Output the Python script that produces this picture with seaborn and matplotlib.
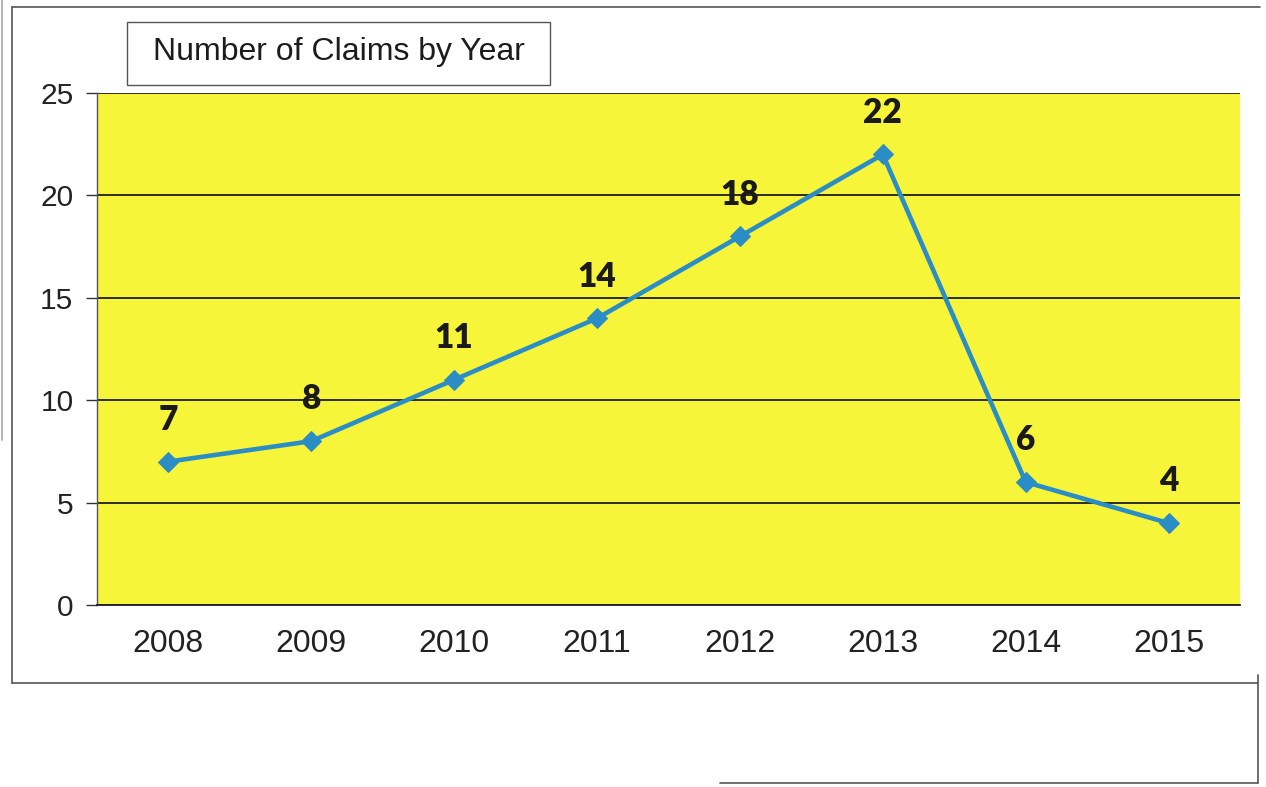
import matplotlib
matplotlib.use("Agg")
import matplotlib.pyplot as plt
from matplotlib.lines import Line2D
from matplotlib.patches import Rectangle
from matplotlib.ticker import MultipleLocator
import pandas as pd
import seaborn as sns

# %% DATA ────────────────────────────────────────────────────────────────
years = ["2008", "2009", "2010", "2011", "2012", "2013", "2014", "2015"]
claims = [7, 8, 11, 14, 18, 22, 6, 4]
title_text = "Number of Claims by Year"

df = pd.DataFrame({"Year": years, "Claims": claims})

# %% STYLE ───────────────────────────────────────────────────────────────
sns.set_style("white")
plt.rcParams["font.family"] = ["Liberation Sans", "DejaVu Sans"]

line_col = "#2b8dc6"
plot_bg = "#f7f53a"
W, H = 1266, 787

fig = plt.figure(figsize=(W / 100, H / 100), dpi=100)
ax = fig.add_axes([97 / W, 1 - 605 / H, (1240 - 97) / W, (605 - 93) / H])
ax.set_facecolor(plot_bg)

sns.lineplot(data=df, x="Year", y="Claims", ax=ax, color=line_col, lw=3.3,
             marker="D", markersize=10, markeredgecolor=line_col, sort=False)

# data labels
for i, v in enumerate(claims):
    ax.annotate(str(v), (i, v), xytext=(0, 30), textcoords="offset points",
                ha="center", va="center", fontsize=24, fontweight="heavy",
                family=["Lato", "DejaVu Sans"], color="#1a1a1a")

ax.set_xlim(-0.5, len(years) - 0.5)
ax.set_ylim(0, 25)
ax.yaxis.set_major_locator(MultipleLocator(5))
ax.grid(axis="y", color="#1e1e1e", lw=1.3)
ax.set_axisbelow(True)

# excel-style category ticks between the years
ax.set_xticks(range(len(years)))
ax.set_xticklabels(years)
ax.set_xticks([i - 0.5 for i in range(len(years) + 1)], minor=True)
ax.tick_params(axis="x", which="major", length=0, pad=17, labelsize=23, labelcolor="#222222")
ax.tick_params(axis="x", which="minor", length=8, width=1, color="#333333", direction="out")
ax.tick_params(axis="y", length=8, width=1, color="#333333", direction="out",
               pad=9, labelsize=21.5, labelcolor="#222222", left=True)
ax.set_xlabel("")
ax.set_ylabel("")

for s in ["top", "right"]:
    ax.spines[s].set_visible(False)
ax.spines["left"].set_color("#555555")
ax.spines["left"].set_linewidth(1)
ax.spines["bottom"].set_color("#1e1e1e")
ax.spines["bottom"].set_linewidth(1.3)

# title box
fig.text(339 / W, 1 - 52 / H, title_text, ha="center", va="center",
         fontsize=23, color="#1c1c1c")
fig.patches.append(Rectangle((127 / W, 1 - 85 / H), (550 - 127) / W, (85 - 22) / H,
                             transform=fig.transFigure, fill=False,
                             edgecolor="#555555", lw=1))

# scanned page borders
def fline(xs, ys, **kw):
    fig.lines.append(Line2D([x / W for x in xs], [1 - y / H for y in ys],
                            transform=fig.transFigure, color="#555555", lw=1.2, **kw))

fline([12, 1260], [7, 7])
fline([12, 12], [7, 683])
fline([12, 1258], [683, 683])
fline([1258, 1258], [675, 783])
fline([720, 1258], [783, 783])
fline([2, 2], [0, 440], alpha=0.5)

fig.savefig("out.png", dpi=100)
